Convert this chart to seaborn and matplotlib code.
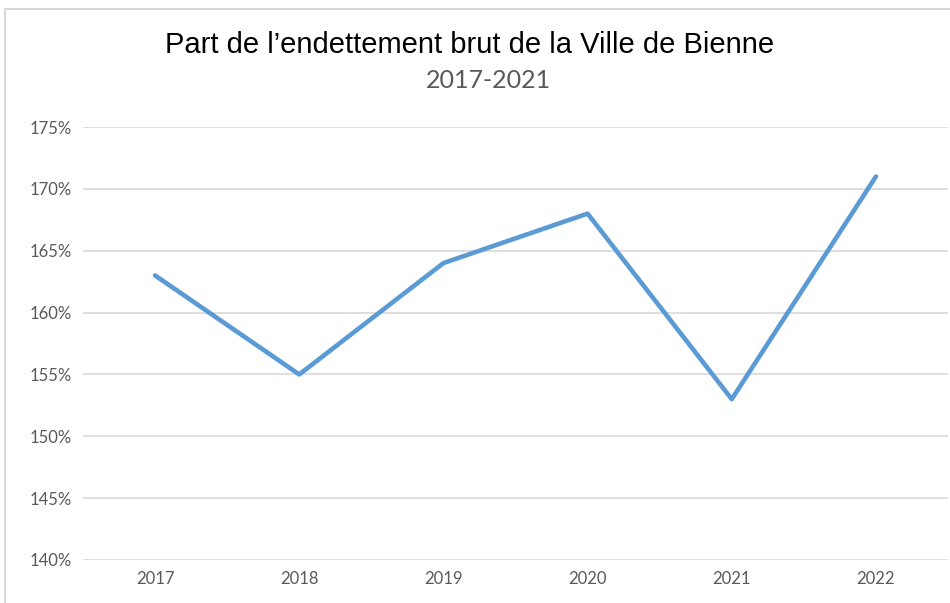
import matplotlib
matplotlib.use('Agg')
import matplotlib.pyplot as plt
import seaborn as sns
import pandas as pd
from matplotlib.patches import Rectangle
from matplotlib.ticker import FuncFormatter

annees = ['2017', '2018', '2019', '2020', '2021', '2022']
endettement = [163, 155, 164, 168, 153, 171]
yticks = [140, 145, 150, 155, 160, 165, 170, 175]

df = pd.DataFrame({'annee': annees, 'part': endettement})

sns.set_style('white')
fig = plt.figure(figsize=(9.5, 6.03), dpi=100)
ax = fig.add_axes([83 / 950, 1 - 560 / 603, (948 - 83) / 950, (560 - 127) / 603])

sns.lineplot(data=df, x='annee', y='part', ax=ax, color='#5B9BD5', linewidth=3.3, sort=False)

ax.set_xlim(-0.5, 5.5)
ax.set_ylim(140, 175)
ax.set_yticks(yticks)
ax.yaxis.set_major_formatter(FuncFormatter(lambda v, p: f'{v:.0f}%'))
ax.grid(axis='y', color='#d9d9d9', linewidth=1.2)
ax.set_axisbelow(True)
for s in ax.spines.values():
    s.set_visible(False)
ax.tick_params(axis='both', length=0, labelsize=12, labelcolor='#595959', pad=8)
for lab in ax.get_xticklabels() + ax.get_yticklabels():
    lab.set_family('Lato')
ax.set_xlabel('')
ax.set_ylabel('')

# cadre du graphique
fig.patches.append(Rectangle((5 / 950, -0.1), 1.2, 1 - 9 / 603 + 0.1, transform=fig.transFigure,
                             fill=False, edgecolor='#d9d9d9', linewidth=1.5))

fig.text(470 / 950, 1 - 45 / 603, 'Part de l\u2019endettement brut de la Ville de Bienne',
         ha='center', va='center', fontsize=21, family='Liberation Sans', color='black')
fig.text(488 / 950, 1 - 80 / 603, '2017-2021', ha='center', va='center',
         fontsize=18, family='Lato', color='#595959')

fig.savefig('out.png', dpi=100)
